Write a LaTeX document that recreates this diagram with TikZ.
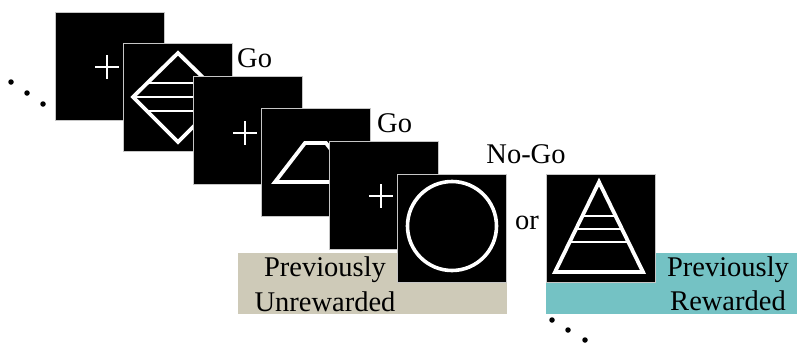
\documentclass[tikz,border=0pt]{standalone}
\usepackage{fontspec}
\setmainfont{Liberation Serif}
\definecolor{tanbg}{RGB}{206,202,184}
\definecolor{tealbg}{RGB}{116,194,196}
\begin{document}
\begin{tikzpicture}[x=1pt,y=-1pt,
  sq/.style={draw=gray!45,line width=0.8pt,fill=black,minimum width=109pt,minimum height=108pt,inner sep=0pt},
  fix/.style={draw=white,line width=1.8pt},
  shp/.style={draw=white,line width=3.8pt,line join=miter},
  stripe/.style={draw=white,line width=2.6pt},
  lbl/.style={font=\fontsize{28.5}{34}\selectfont,inner sep=0pt},
  dot/.style={fill=black,circle,inner sep=0pt,minimum size=5.5pt}]
\useasboundingbox (0,0) rectangle (797,345);
% dots
\node[dot] (d1) at (11,82) {};
\node[dot] (d2) at (27,93) {};
\node[dot] (d3) at (43,104) {};
% square 1 with fixation
\node[sq] (s1) at (109.5,66) {};
\draw[fix] (95,67) -- (119,67) (107,55) -- (107,79);
% square 2 with diamond
\node[sq] (s2) at (177.5,97) {};
\draw[shp] (178,53) -- (133,97) -- (178,142) -- (223,97) -- cycle;
\draw[stripe] (147,83) -- (209,83) (133,97) -- (223,97) (147,111) -- (209,111);
\node[lbl,anchor=base west] (go1) at (237,67) {Go};
% square 3 with fixation
\node[sq] (s3) at (247.5,130) {};
\draw[fix] (233,133) -- (257,133) (245,121) -- (245,145);
% square 4 with trapezoid
\node[sq] (s4) at (315.5,162.5) {};
\draw[shp] (305,143) -- (275,182) -- (356,182) -- (326,143) -- cycle;
\node[lbl,anchor=base west] (go2) at (377,132) {Go};
% square 5 with fixation
\node[sq] (s5) at (383.5,195) {};
\draw[fix] (369,196) -- (393,196) (381,184) -- (381,208);
% label boxes
\fill[tanbg] (238,253) rectangle (507,314);
\fill[tealbg] (546,253) rectangle (797,314);
% square 6 with circle
\node[sq] (s6) at (452,228) {};
\draw[draw=white,line width=3.6pt] (452,226) circle[radius=44.5];
\node[lbl,anchor=base] (nogo) at (526,163) {No-Go};
\node[lbl,anchor=base west] (or) at (515,229) {or};
% square 7 with triangle
\node[sq] (s7) at (600.5,228) {};
\draw[shp] (599,182) -- (555,272) -- (643,272) -- cycle;
\draw[stripe] (582.4,216) -- (615.6,216) (576,229) -- (622,229) (569.7,242) -- (628.3,242);
% label texts
\node[lbl,anchor=base] (pu1) at (325,276) {Previously};
\node[lbl,anchor=base] (pu2) at (325,311) {Unrewarded};
\node[lbl,anchor=base] (pr1) at (728,276) {Previously};
\node[lbl,anchor=base] (pr2) at (728,310) {Rewarded};
% bottom dots
\node[dot] (d4) at (552,320) {};
\node[dot] (d5) at (568,330) {};
\node[dot] (d6) at (585,340) {};
\end{tikzpicture}
\end{document}
